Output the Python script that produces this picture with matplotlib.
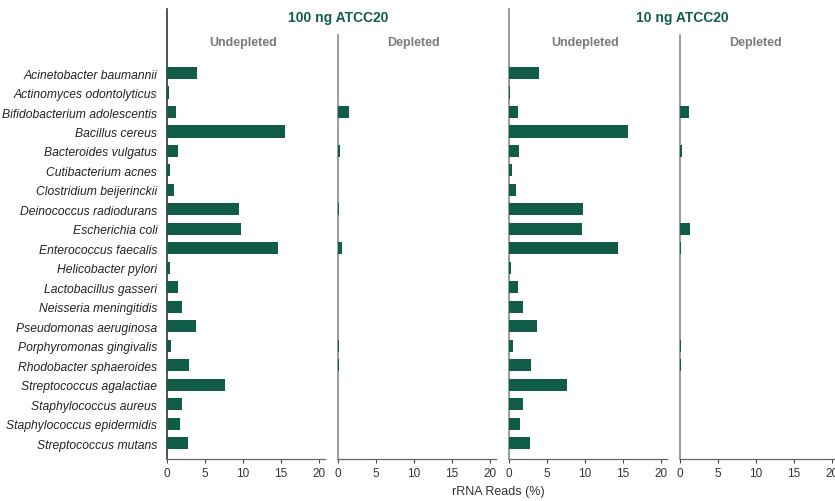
import matplotlib
matplotlib.use("Agg")
import matplotlib.pyplot as plt

plt.rcParams['font.family'] = ['Liberation Sans', 'DejaVu Sans']

species = [
    "Acinetobacter baumannii", "Actinomyces odontolyticus", "Bifidobacterium adolescentis",
    "Bacillus cereus", "Bacteroides vulgatus", "Cutibacterium acnes", "Clostridium beijerinckii",
    "Deinococcus radiodurans", "Escherichia coli", "Enterococcus faecalis", "Helicobacter pylori",
    "Lactobacillus gasseri", "Neisseria meningitidis", "Pseudomonas aeruginosa",
    "Porphyromonas gingivalis", "Rhodobacter sphaeroides", "Streptococcus agalactiae",
    "Staphylococcus aureus", "Staphylococcus epidermidis", "Streptococcus mutans",
]

# rRNA reads (%) per species
undepl_100 = [3.9, 0.2, 1.25, 15.5, 1.4, 0.35, 0.9, 9.45, 9.7, 14.55, 0.35,
              1.4, 1.95, 3.8, 0.5, 2.85, 7.7, 1.95, 1.7, 2.75]
depl_100 = [0, 0, 1.45, 0, 0.25, 0, 0, 0.15, 0, 0.5, 0,
            0, 0, 0, 0.15, 0.15, 0, 0, 0, 0]
undepl_10 = [4.0, 0.17, 1.22, 15.7, 1.36, 0.43, 0.96, 9.8, 9.65, 14.4, 0.3,
             1.22, 1.9, 3.72, 0.57, 2.93, 7.67, 1.9, 1.5, 2.7]
depl_10 = [0, 0, 1.2, 0, 0.3, 0, 0, 0, 1.3, 0.15, 0,
           0, 0, 0, 0.15, 0.15, 0, 0, 0, 0]

groups = ["100 ng ATCC20", "10 ng ATCC20"]
subtitles = ["Undepleted", "Depleted", "Undepleted", "Depleted"]
panels = [undepl_100, depl_100, undepl_10, depl_10]

green = '#115c49'
W, H = 835, 502

fig = plt.figure(figsize=(W / 100, H / 100), dpi=100)

def rect(x0, x1, y0, y1):
    return [x0 / W, 1 - y1 / H, (x1 - x0) / W, (y1 - y0) / H]

lefts = [167, 338, 509, 680]
ypos = list(range(len(species)))
ybot, ytop = 19.82, -3.29

for i, (vals, sub) in enumerate(zip(panels, subtitles)):
    ax = fig.add_axes(rect(lefts[i], lefts[i] + 158, 10, 460))
    # bars above the spine so the tiny values still show
    ax.barh(ypos, vals, height=0.62, color=green, zorder=3)
    ax.set_xlim(0, 20.8)
    ax.set_ylim(ybot, ytop)
    ax.set_xticks([0, 5, 10, 15, 20])
    ax.tick_params(axis='x', length=3, width=0.8, color='#444444', labelsize=8.5,
                   labelcolor='#333333', pad=3)
    for s in ['top', 'right']:
        ax.spines[s].set_visible(False)
    ax.spines['bottom'].set_color('#666666')
    ax.spines['bottom'].set_linewidth(0.9)
    if i == 0:
        ax.spines['left'].set_color('#333333')
        ax.set_yticks(ypos)
        ax.set_yticklabels(species, fontstyle='italic', fontsize=8.7, color='#222222')
        ax.tick_params(axis='y', length=0, pad=7)
    else:
        ax.spines['left'].set_color('#8a8a8a')
        ax.set_yticks([])
    ax.spines['left'].set_linewidth(1.2)
    if i % 2 == 1:
        ax.spines['left'].set_bounds(ybot, -1.95)
    ax.patch.set_alpha(0)
    ax.text(0.48, 0.927, sub, transform=ax.transAxes, ha='center', va='center',
            fontsize=9, fontweight='bold', color='#7a7a7a')

fig.text(338 / W, 1 - 18 / H, groups[0], ha='center', va='center',
         fontsize=10, fontweight='bold', color=green)
fig.text(682 / W, 1 - 18 / H, groups[1], ha='center', va='center',
         fontsize=10, fontweight='bold', color=green)
fig.text(498 / W, 1 - 492 / H, "rRNA Reads (%)", ha='center', va='center',
         fontsize=9, color='#333333')

fig.savefig("out.png", dpi=100)
